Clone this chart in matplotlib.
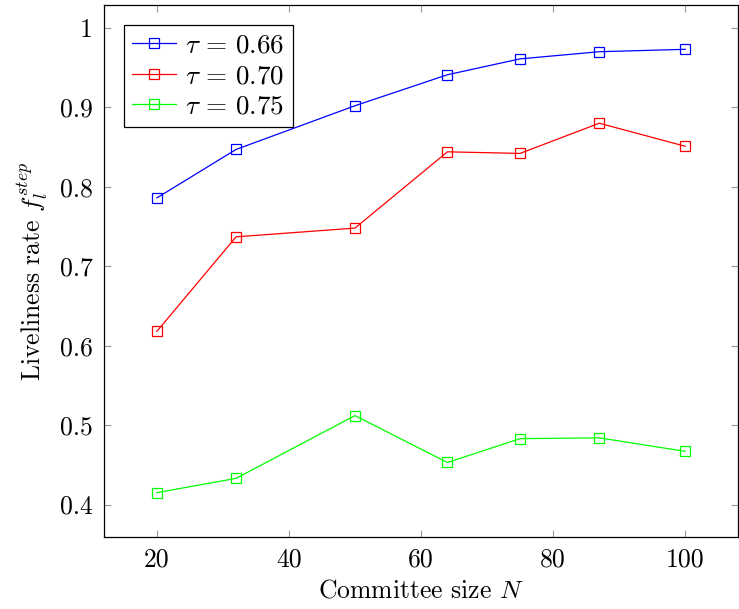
import matplotlib
matplotlib.use("Agg")
import matplotlib.pyplot as plt

plt.rcParams['font.family'] = 'cmr10'
plt.rcParams['mathtext.fontset'] = 'cm'
plt.rcParams['axes.formatter.use_mathtext'] = True
plt.rcParams['axes.unicode_minus'] = False

committee_sizes = [20, 32, 50, 64, 75, 87, 100]
tau_066 = [0.786, 0.847, 0.902, 0.941, 0.961, 0.970, 0.973]
tau_070 = [0.618, 0.737, 0.748, 0.844, 0.842, 0.880, 0.851]
tau_075 = [0.415, 0.433, 0.512, 0.453, 0.483, 0.484, 0.467]
series_labels = [r'$\tau\,=\,0.66$', r'$\tau\,=\,0.70$', r'$\tau\,=\,0.75$']
series_colors = ['#0000ff', '#ff0000', '#00ff00']
x_ticks = [20, 40, 60, 80, 100]
y_ticks = [0.4, 0.5, 0.6, 0.7, 0.8, 0.9, 1.0]
y_tick_labels = ['0.4', '0.5', '0.6', '0.7', '0.8', '0.9', '1']

fig = plt.figure(figsize=(7.39, 6.09), dpi=100)
ax = fig.add_axes([104/739, 1-537/609, 634/739, 532/609])

for vals, lab, col in zip([tau_066, tau_070, tau_075], series_labels, series_colors):
    ax.plot(committee_sizes, vals, color=col, lw=0.9, marker='s', markersize=7.5,
            markerfacecolor='none', markeredgecolor=col, markeredgewidth=0.9, label=lab)

ax.set_xlim(12, 108)
ax.set_ylim(0.3592, 1.0288)
ax.set_xticks(x_ticks)
ax.set_xticklabels([str(t) for t in x_ticks])
ax.set_yticks(y_ticks)
ax.set_yticklabels(y_tick_labels)
ax.tick_params(direction='in', length=5, width=0.8, color='#999999',
               top=True, right=True, labelsize=18.5, pad=8)
for s in ax.spines.values():
    s.set_linewidth(0.9)

ax.set_xlabel(r'Committee size $N$', fontsize=18.5, labelpad=5)
ax.set_ylabel(r'Liveliness rate $f_l^{step}$', fontsize=18.5, labelpad=7)

leg = ax.legend(loc='upper left', fontsize=19.5, frameon=True, fancybox=False,
                edgecolor='black', framealpha=1, borderpad=0.3, handlelength=1.6,
                handletextpad=0.35, labelspacing=0.25, borderaxespad=0.75)
leg.get_frame().set_linewidth(0.9)

fig.savefig('out.png', dpi=100)
